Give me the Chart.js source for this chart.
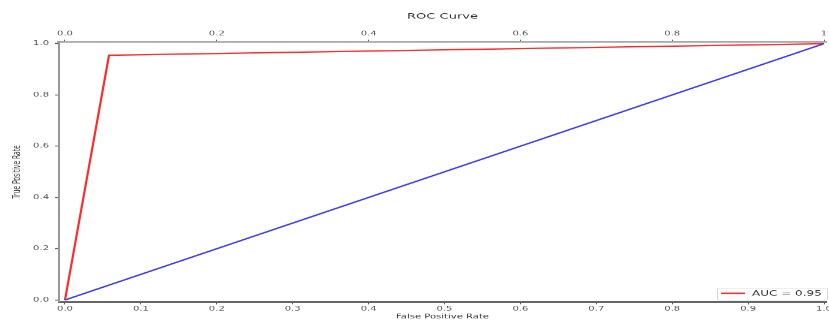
<!DOCTYPE html>
<html>
<head>
<meta charset="utf-8">
<script src="https://cdn.jsdelivr.net/npm/chart.js@4/dist/chart.umd.min.js"></script>
<style>
  html, body { margin: 0; padding: 0; background: #fff; overflow: hidden; }
  #outer { width: 829px; height: 322px; overflow: hidden; position: relative; }
  #wrap { width: 829px; height: 537px; transform: scaleY(0.59963); transform-origin: 0 0; position: absolute; left: 0; top: 0; }
</style>
</head>
<body>
<div id="outer"><div id="wrap"><canvas id="c"></canvas></div></div>
<script>
// ---- data ----
const rocFpr = [0, 0.058, 1];
const rocTpr = [0, 0.955, 1];
const diagFpr = [0, 1];
const diagTpr = [0, 1];
const rocLabel = 'AUC = 0.95';
const chartTitle = 'ROC Curve';
const xTitle = 'False Positive Rate';
const yTitle = 'True Positive Rate';
const bottomTicks = [0, 0.1, 0.2, 0.3, 0.4, 0.5, 0.6, 0.7, 0.8, 0.9, 1.0];
const bottomTickLabels = ['0.0', '0.1', '0.2', '0.3', '0.4', '0.5', '0.6', '0.7', '0.8', '0.9', '1.0'];
const topTicks = [0, 0.2, 0.4, 0.6, 0.8, 1.0];
const topTickLabels = ['0.0', '0.2', '0.4', '0.6', '0.8', '1'];
const yTicks = [0, 0.2, 0.4, 0.6, 0.8, 1.0];
const yTickLabels = ['0.0', '0.2', '0.4', '0.6', '0.8', '1.0'];

const X_MIN = -0.0079, X_MAX = 1.0026;
const Y_MIN = -0.0078, Y_MAX = 1.0066;
const FONT = "'DejaVu Sans', sans-serif";
const TICK_COLOR = '#555';

const toPts = (xs, ys) => xs.map((x, i) => ({ x: x, y: ys[i] }));

const overlay = {
  id: 'overlay',
  afterDraw(chart) {
    const ctx = chart.ctx;
    const a = chart.chartArea;
    ctx.save();
    ctx.fillStyle = '#333';
    ctx.textAlign = 'center';
    ctx.textBaseline = 'middle';
    ctx.font = '13px ' + FONT;
    ctx.fillText(chartTitle, (a.left + a.right) / 2, 27.5);
    ctx.font = '10px ' + FONT;
    ctx.fillText(xTitle, (a.left + a.right) / 2, 528);
    ctx.save();
    ctx.translate(17, (a.top + a.bottom) / 2);
    ctx.rotate(-Math.PI / 2);
    ctx.fillText(yTitle, 0, 0);
    ctx.restore();

    // legend
    const ds = chart.data.datasets[0];
    const bx = 717, by = 480, bw = 110, bh = 20;
    ctx.fillStyle = 'rgba(255,255,255,0.85)';
    ctx.strokeStyle = '#d5d5d5';
    ctx.lineWidth = 1;
    ctx.beginPath();
    if (ctx.roundRect) ctx.roundRect(bx + 0.5, by + 0.5, bw, bh, 2); else ctx.rect(bx + 0.5, by + 0.5, bw, bh);
    ctx.fill();
    ctx.stroke();
    ctx.strokeStyle = ds.borderColor;
    ctx.lineWidth = 2.4;
    ctx.beginPath();
    ctx.moveTo(721, 489);
    ctx.lineTo(745, 489);
    ctx.stroke();
    ctx.fillStyle = '#333';
    ctx.textAlign = 'left';
    ctx.font = '12px ' + FONT;
    ctx.fillText(ds.label, 752, 489.5);
    ctx.restore();
  }
};

const setTicks = (vals) => (scale) => { scale.ticks = vals.map(v => ({ value: v })); };
const noPad = (s) => { s.paddingLeft = 0; s.paddingRight = 0; s.paddingTop = 0; s.paddingBottom = 0; };

new Chart(document.getElementById('c'), {
  type: 'scatter',
  data: {
    datasets: [
      {
        label: rocLabel,
        data: toPts(rocFpr, rocTpr),
        showLine: true,
        borderColor: '#ff2a2a',
        backgroundColor: '#ff2a2a',
        borderWidth: 2.2,
        pointRadius: 0,
        order: 1,
        clip: 6,
        xAxisID: 'x',
        yAxisID: 'y'
      },
      {
        label: 'diagonal',
        data: toPts(diagFpr, diagTpr),
        showLine: true,
        borderColor: '#3a3aff',
        backgroundColor: '#3a3aff',
        borderWidth: 2.2,
        pointRadius: 0,
        order: 0,
        clip: 6,
        xAxisID: 'x',
        yAxisID: 'y'
      }
    ]
  },
  options: {
    responsive: true,
    maintainAspectRatio: false,
    animation: false,
    devicePixelRatio: 1,
    layout: { padding: { left: 0, right: 3, top: 0, bottom: 0 } },
    plugins: { legend: { display: false }, tooltip: { enabled: false }, title: { display: false } },
    scales: {
      x: {
        type: 'linear', position: 'bottom', min: X_MIN, max: X_MAX,
        afterBuildTicks: setTicks(bottomTicks),
        afterFit: (s) => { s.height = 33.5; noPad(s); },
        grid: { drawOnChartArea: false, drawTicks: true, tickLength: 4, tickColor: TICK_COLOR, tickWidth: 1 },
        border: { display: true, color: '#666', width: 3 },
        ticks: { autoSkip: false, maxRotation: 0, padding: 2, color: TICK_COLOR, font: { family: FONT, size: 10 },
          callback: (v, i) => bottomTickLabels[i] }
      },
      x2: {
        type: 'linear', position: 'top', min: X_MIN, max: X_MAX,
        afterBuildTicks: setTicks(topTicks),
        afterFit: (s) => { s.height = 70; noPad(s); },
        grid: { drawOnChartArea: false, drawTicks: true, tickLength: 4, tickColor: TICK_COLOR, tickWidth: 1 },
        border: { display: true, color: '#aaa', width: 3.6 },
        ticks: { autoSkip: false, maxRotation: 0, padding: 4, color: TICK_COLOR, font: { family: FONT, size: 10 },
          callback: (v, i) => topTickLabels[i] }
      },
      y: {
        type: 'linear', position: 'left', min: Y_MIN, max: Y_MAX,
        afterBuildTicks: setTicks(yTicks),
        afterFit: (s) => { s.width = 59; noPad(s); },
        grid: { drawOnChartArea: false, drawTicks: true, tickLength: 4, tickColor: TICK_COLOR, tickWidth: 1.5 },
        border: { display: true, color: '#999', width: 2 },
        ticks: { autoSkip: false, padding: 6, color: TICK_COLOR, font: { family: FONT, size: 10 },
          callback: (v, i) => yTickLabels[i] }
      }
    }
  },
  plugins: [overlay]
});
</script>
</body>
</html>
